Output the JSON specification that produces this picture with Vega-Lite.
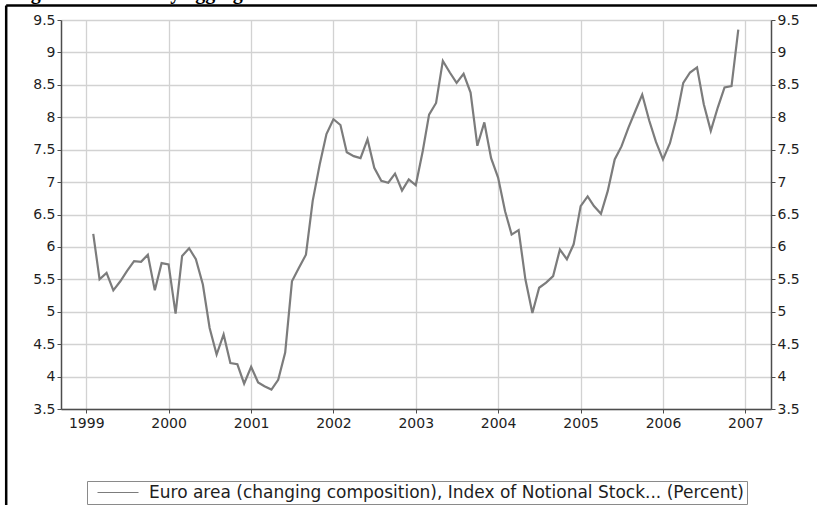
{
  "$schema": "https://vega.github.io/schema/vega-lite/v6.json",
  "width": 710,
  "height": 389,
  "autosize": {"type": "none"},
  "padding": {"left": 61, "top": 20, "right": 46, "bottom": 96},
  "background": "#ffffff",
  "title": {
    "text": "Figure 1: Monetary aggregate M3",
    "anchor": "start",
    "frame": "group",
    "orient": "top",
    "offset": -15,
    "baseline": "alphabetic",
    "font": "Liberation Serif",
    "fontSize": 20,
    "fontWeight": "bold",
    "color": "#000000",
    "dx": -48,
    "dy": 0
  },
  "config": {
    "view": {"stroke": null},
    "axis": {
      "labelFont": "DejaVu Sans",
      "labelFontSize": 14,
      "labelColor": "#1e1e1e",
      "domainColor": "#4d4d4d",
      "domainWidth": 1.5,
      "tickColor": "#4d4d4d",
      "tickSize": 4,
      "labelPadding": 2,
      "gridColor": "#d2d2d2",
      "gridWidth": 1.3,
      "title": null
    },
    "legend": {
      "labelFont": "DejaVu Sans",
      "labelFontSize": 17,
      "labelColor": "#1e1e1e",
      "labelLimit": 900
    }
  },
  "data": {
    "values": [
      {"date": "1999-02-01", "value": 6.20},
      {"date": "1999-03-01", "value": 5.50},
      {"date": "1999-04-01", "value": 5.60},
      {"date": "1999-05-01", "value": 5.33},
      {"date": "1999-06-01", "value": 5.47},
      {"date": "1999-07-01", "value": 5.63},
      {"date": "1999-08-01", "value": 5.78},
      {"date": "1999-09-01", "value": 5.77},
      {"date": "1999-10-01", "value": 5.88},
      {"date": "1999-11-01", "value": 5.33},
      {"date": "1999-12-01", "value": 5.75},
      {"date": "2000-01-01", "value": 5.73},
      {"date": "2000-02-01", "value": 4.97},
      {"date": "2000-03-01", "value": 5.86},
      {"date": "2000-04-01", "value": 5.98},
      {"date": "2000-05-01", "value": 5.81},
      {"date": "2000-06-01", "value": 5.42},
      {"date": "2000-07-01", "value": 4.75},
      {"date": "2000-08-01", "value": 4.34},
      {"date": "2000-09-01", "value": 4.65},
      {"date": "2000-10-01", "value": 4.21},
      {"date": "2000-11-01", "value": 4.19},
      {"date": "2000-12-01", "value": 3.89},
      {"date": "2001-01-01", "value": 4.15},
      {"date": "2001-02-01", "value": 3.91},
      {"date": "2001-03-01", "value": 3.85},
      {"date": "2001-04-01", "value": 3.80},
      {"date": "2001-05-01", "value": 3.95},
      {"date": "2001-06-01", "value": 4.37},
      {"date": "2001-07-01", "value": 5.47},
      {"date": "2001-08-01", "value": 5.68},
      {"date": "2001-09-01", "value": 5.88},
      {"date": "2001-10-01", "value": 6.71},
      {"date": "2001-11-01", "value": 7.27},
      {"date": "2001-12-01", "value": 7.74},
      {"date": "2002-01-01", "value": 7.97},
      {"date": "2002-02-01", "value": 7.88},
      {"date": "2002-03-01", "value": 7.46},
      {"date": "2002-04-01", "value": 7.40},
      {"date": "2002-05-01", "value": 7.37},
      {"date": "2002-06-01", "value": 7.66},
      {"date": "2002-07-01", "value": 7.22},
      {"date": "2002-08-01", "value": 7.02},
      {"date": "2002-09-01", "value": 6.99},
      {"date": "2002-10-01", "value": 7.13},
      {"date": "2002-11-01", "value": 6.87},
      {"date": "2002-12-01", "value": 7.04},
      {"date": "2003-01-01", "value": 6.95},
      {"date": "2003-02-01", "value": 7.48},
      {"date": "2003-03-01", "value": 8.04},
      {"date": "2003-04-01", "value": 8.22},
      {"date": "2003-05-01", "value": 8.87},
      {"date": "2003-06-01", "value": 8.69},
      {"date": "2003-07-01", "value": 8.53},
      {"date": "2003-08-01", "value": 8.67},
      {"date": "2003-09-01", "value": 8.38},
      {"date": "2003-10-01", "value": 7.56},
      {"date": "2003-11-01", "value": 7.92},
      {"date": "2003-12-01", "value": 7.37},
      {"date": "2004-01-01", "value": 7.07},
      {"date": "2004-02-01", "value": 6.55},
      {"date": "2004-03-01", "value": 6.19},
      {"date": "2004-04-01", "value": 6.26},
      {"date": "2004-05-01", "value": 5.50},
      {"date": "2004-06-01", "value": 4.98},
      {"date": "2004-07-01", "value": 5.37},
      {"date": "2004-08-01", "value": 5.45},
      {"date": "2004-09-01", "value": 5.55},
      {"date": "2004-10-01", "value": 5.96},
      {"date": "2004-11-01", "value": 5.81},
      {"date": "2004-12-01", "value": 6.04},
      {"date": "2005-01-01", "value": 6.63},
      {"date": "2005-02-01", "value": 6.78},
      {"date": "2005-03-01", "value": 6.63},
      {"date": "2005-04-01", "value": 6.51},
      {"date": "2005-05-01", "value": 6.86},
      {"date": "2005-06-01", "value": 7.35},
      {"date": "2005-07-01", "value": 7.55},
      {"date": "2005-08-01", "value": 7.84},
      {"date": "2005-09-01", "value": 8.10},
      {"date": "2005-10-01", "value": 8.35},
      {"date": "2005-11-01", "value": 7.95},
      {"date": "2005-12-01", "value": 7.62},
      {"date": "2006-01-01", "value": 7.35},
      {"date": "2006-02-01", "value": 7.60},
      {"date": "2006-03-01", "value": 7.98},
      {"date": "2006-04-01", "value": 8.53},
      {"date": "2006-05-01", "value": 8.69},
      {"date": "2006-06-01", "value": 8.77},
      {"date": "2006-07-01", "value": 8.20},
      {"date": "2006-08-01", "value": 7.79},
      {"date": "2006-09-01", "value": 8.15},
      {"date": "2006-10-01", "value": 8.46},
      {"date": "2006-11-01", "value": 8.48},
      {"date": "2006-12-01", "value": 9.35}
    ]
  },
  "layer": [
    {
      "data": {"values": [{}]},
      "mark": {"type": "rule", "color": "#000000", "strokeWidth": 2.5, "clip": false},
      "encoding": {
        "x": {"datum": {"year": 1998, "month": 1, "date": 11, "utc": true}, "type": "temporal",
              "scale": {"type": "utc", "domain": [{"year": 1998, "month": 9, "date": 11, "utc": true}, {"year": 2007, "month": 4, "date": 25, "utc": true}], "nice": false}},
        "x2": {"datum": {"year": 2009, "month": 1, "date": 1, "utc": true}},
        "y": {"datum": 9.724, "type": "quantitative", "axis": null,
              "scale": {"domain": [3.5, 9.5], "nice": false, "zero": false}}
      }
    },
    {
      "data": {"values": [{}]},
      "mark": {"type": "rule", "color": "#000000", "strokeWidth": 2.5, "clip": false},
      "encoding": {
        "x": {"datum": {"year": 1998, "month": 1, "date": 11, "utc": true}, "type": "temporal"},
        "y": {"datum": 9.724, "type": "quantitative", "axis": null,
              "scale": {"domain": [3.5, 9.5], "nice": false, "zero": false}},
        "y2": {"datum": 0.5}
      }
    },
    {
      "mark": {"type": "line", "strokeWidth": 2.2, "interpolate": "linear"},
      "encoding": {
        "x": {"field": "date", "type": "temporal",
              "scale": {"type": "utc", "domain": [{"year": 1998, "month": 9, "date": 11, "utc": true}, {"year": 2007, "month": 4, "date": 25, "utc": true}], "nice": false},
              "axis": {"values": [
                {"year": 1999, "utc": true}, {"year": 2000, "utc": true}, {"year": 2001, "utc": true},
                {"year": 2002, "utc": true}, {"year": 2003, "utc": true}, {"year": 2004, "utc": true},
                {"year": 2005, "utc": true}, {"year": 2006, "utc": true}, {"year": 2007, "utc": true}],
                "format": "%Y", "grid": true, "labelPadding": 3}},
        "y": {"field": "value", "type": "quantitative",
              "scale": {"domain": [3.5, 9.5], "nice": false, "zero": false},
              "axis": {"orient": "left", "values": [3.5, 4, 4.5, 5, 5.5, 6, 6.5, 7, 7.5, 8, 8.5, 9, 9.5], "format": ".1~f", "grid": true}},
        "color": {"datum": "Euro area (changing composition), Index of Notional Stock... (Percent)",
                  "type": "nominal",
                  "scale": {"range": ["#7c7c7c"]},
                  "legend": {"orient": "none", "legendX": 26, "legendY": 461, "title": null,
                             "symbolType": "M-0.2,0H8", "symbolSize": 100,
                             "symbolStrokeWidth": 1.2, "strokeColor": "#8a8a8a", "padding": 3, "labelOffset": 42}}
      }
    },
    {
      "mark": {"type": "line", "strokeOpacity": 0},
      "encoding": {
        "x": {"field": "date", "type": "temporal"},
        "y": {"field": "value", "type": "quantitative",
              "scale": {"domain": [3.5, 9.5], "nice": false, "zero": false},
              "axis": {"orient": "right", "values": [3.5, 4, 4.5, 5, 5.5, 6, 6.5, 7, 7.5, 8, 8.5, 9, 9.5], "format": ".1~f", "grid": false}}
      }
    }
  ],
  "resolve": {"scale": {"y": "independent"}, "axis": {"y": "independent"}}
}
